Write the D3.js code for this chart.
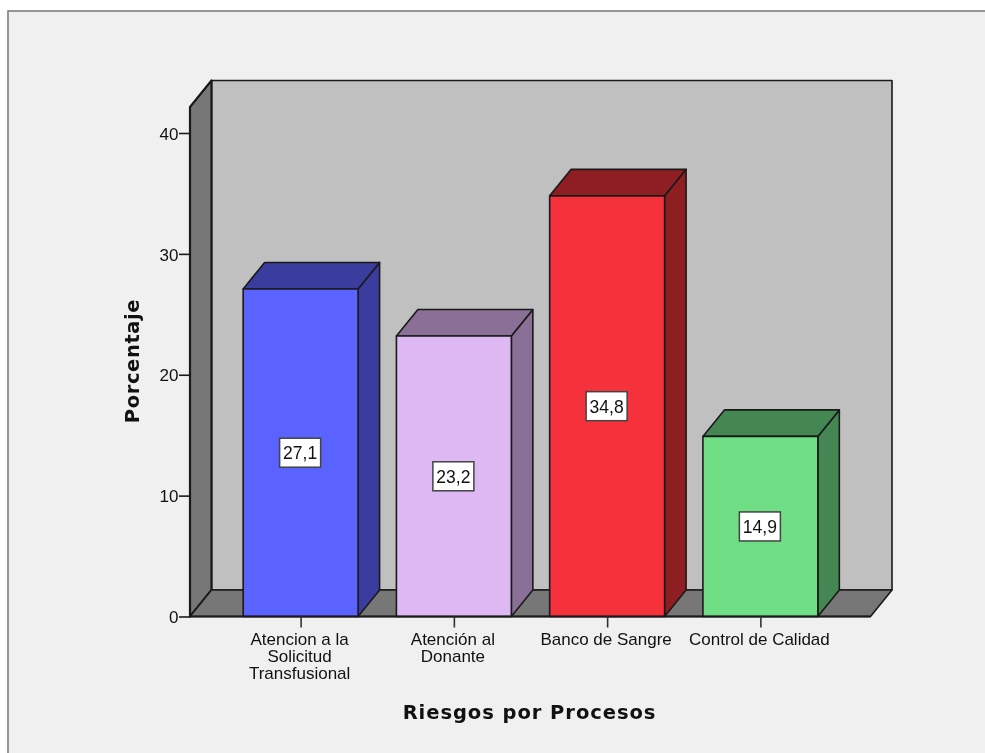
<!DOCTYPE html>
<html><head><meta charset="utf-8">
<script src="https://cdn.jsdelivr.net/npm/d3@7"></script>
<style>html,body{margin:0;padding:0;background:#fff}svg{display:block;filter:blur(0.35px)}text{font-family:"Liberation Sans",Arial,sans-serif;fill:#111}</style>
</head><body><svg id="c" width="985" height="753"></svg>
<script>
const categories = [["Atencion a la","Solicitud","Transfusional"],["Atención al","Donante"],["Banco de Sangre"],["Control de Calidad"]];
const values = [27.1,23.2,34.8,14.9];
const valueLabels = ["27,1","23,2","34,8","14,9"];
const frontColors = ["#5a62ff","#deb8f2","#f5323c","#70de85"];
const sideColors = ["#3a3c9e","#8a7096","#8e1e22","#448752"];
const yTicks = [0,10,20,30,40];
const yMaxVisible = 42.15;
const xTitle = "Riesgos por Procesos";
const yTitle = "Porcentaje";

const svg = d3.select("#c");
const ink = "#1a1a1a";
const y = d3.scaleLinear().domain([0,40]).range([616.5,133]);
const x = d3.scaleBand().domain(d3.range(4)).range([224,837]).paddingInner(0.25).paddingOuter(0.125);
const dx = 21.5, dy = -26.5;
const L = 190, R = 870.5;
const wallTop = y(yMaxVisible), base = y(0);

svg.append("rect").attr("x",8).attr("y",11).attr("width",1000).attr("height",760).attr("fill","#f0f0f0").attr("stroke","#7d7d7d").attr("stroke-width",1.6);

const poly = (pts,fill,sw=1.6)=>svg.append("polygon").attr("points",pts.map(p=>p.join(",")).join(" ")).attr("fill",fill).attr("stroke",ink).attr("stroke-width",sw).attr("stroke-linejoin","round");

// back wall, side wall, floor
poly([[L+dx,wallTop+dy],[R+dx,wallTop+dy],[R+dx,base+dy],[L+dx,base+dy]],"#c0c0c0");
poly([[L,wallTop],[L+dx,wallTop+dy],[L+dx,base+dy],[L,base]],"#777777",2.2);
poly([[L,base],[L+dx,base+dy],[R+dx,base+dy],[R,base]],"#777777");

// bars
values.forEach((v,i)=>{
  const x0=x(i), x1=x0+x.bandwidth(), yv=y(v);
  poly([[x1,yv],[x1+dx,yv+dy],[x1+dx,base+dy],[x1,base]],sideColors[i]);
  poly([[x0,yv],[x0+dx,yv+dy],[x1+dx,yv+dy],[x1,yv]],sideColors[i]);
  poly([[x0,yv],[x1,yv],[x1,base],[x0,base]],frontColors[i]);
});
svg.append("line").attr("x1",L).attr("x2",R).attr("y1",base).attr("y2",base).attr("stroke",ink).attr("stroke-width",2);

// y axis
const ya = svg.append("g").attr("transform",`translate(${L},0)`).call(d3.axisLeft(y).tickValues(yTicks).tickSize(11).tickFormat(d3.format("d")));
ya.select(".domain").remove();
ya.selectAll(".tick line").attr("stroke",ink).attr("stroke-width",1.6);
ya.selectAll(".tick text").attr("font-size",17).attr("x",-11.5).attr("dy","0.36em").attr("fill","#111");

// x axis
const xa = svg.append("g").attr("transform",`translate(0,${base})`).call(d3.axisBottom(d3.scalePoint().domain(d3.range(4)).range([x(0)+x.bandwidth()/2,x(3)+x.bandwidth()/2])).tickSize(11).tickFormat(""));
xa.select(".domain").remove();
xa.selectAll(".tick line").attr("stroke","#333").attr("stroke-width",1.6);
categories.forEach((lines,i)=>{
  const t = svg.append("text").attr("text-anchor","middle").attr("font-size",17);
  lines.forEach((s,j)=>t.append("tspan").attr("x",x(i)+x.bandwidth()/2-1).attr("y",645+j*17.2).text(s));
});

// value labels
values.forEach((v,i)=>{
  const cx=x(i)+x.bandwidth()/2-0.5, cy=(y(v)+base)/2;
  svg.append("rect").attr("x",cx-20.5).attr("y",cy-14.5).attr("width",41).attr("height",29).attr("fill","#fff").attr("stroke","#444").attr("stroke-width",1.5);
  svg.append("text").attr("x",cx).attr("y",cy+6.5).attr("text-anchor","middle").attr("font-size",17.5).text(valueLabels[i]);
});

// titles
svg.append("text").attr("x",529.5).attr("y",719).attr("text-anchor","middle").attr("font-weight","bold").attr("letter-spacing","0.95").style("font-family","'DejaVu Sans',sans-serif").attr("font-size",19.5).text(xTitle);
svg.append("text").attr("transform","translate(139,361) rotate(-90)").attr("text-anchor","middle").attr("font-weight","bold").attr("letter-spacing","0.6").style("font-family","'DejaVu Sans',sans-serif").attr("font-size",19.5).text(yTitle);
</script></body></html>
